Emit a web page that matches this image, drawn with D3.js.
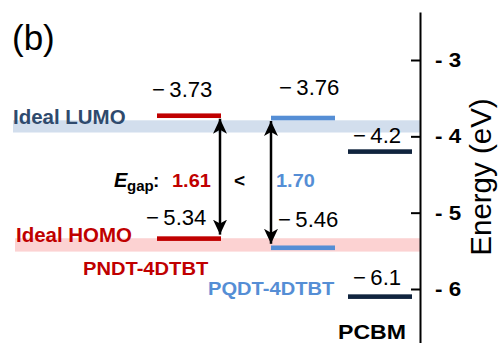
<!DOCTYPE html>
<html>
<head>
<meta charset="utf-8">
<script src="https://cdn.jsdelivr.net/npm/d3@7"></script>
<style>
body { margin: 0; background: #fff; }
svg { display: block; font-family: "Liberation Sans", Arial, sans-serif; }
</style>
</head>
<body>
<script>
// energy levels (eV)
var materials = ["PNDT-4DTBT", "PQDT-4DTBT", "PCBM"];
var lumo = [-3.73, -3.76, -4.2];
var homo = [-5.34, -5.46, -6.1];
var idealLumo = [-3.79, -3.95];
var idealHomo = [-5.335, -5.51];
var yTicks = [-3, -4, -5, -6];

var colors = ["#c00000", "#558ed5", "#10243e"];
var width = 500, height = 343;

var svg = d3.select("body").append("svg")
    .attr("width", width)
    .attr("height", height);

var y = d3.scaleLinear().domain([-3, -6]).range([60, 289]);
var yAx = y.copy().domain([y.invert(12), y.invert(343)]).range([12, 343]);
var x = d3.scaleOrdinal().domain(materials).range([157, 271, 348]);
var barW = 64;
var axisX = 420;

// helper for stretched labels
function txt(px, py, s, o) {
    return svg.append("text")
        .attr("transform", "translate(" + px + "," + py + ") scale(" + (o.sx || 1) + ",1)")
        .attr("font-size", o.size)
        .attr("font-weight", o.bold ? "bold" : null)
        .attr("font-style", o.italic ? "italic" : null)
        .attr("fill", o.fill || "#000")
        .attr("text-anchor", o.anchor || "start")
        .text(s);
}

// ideal bands
svg.append("rect")
    .attr("x", 13).attr("width", axisX - 13)
    .attr("y", y(idealLumo[0])).attr("height", y(idealLumo[1]) - y(idealLumo[0]))
    .attr("fill", "#d2deed");
svg.append("rect")
    .attr("x", 15).attr("width", axisX - 15)
    .attr("y", y(idealHomo[0])).attr("height", y(idealHomo[1]) - y(idealHomo[0]))
    .attr("fill", "#fcd2d2");

txt(13, 123.5, "Ideal LUMO", { size: 19.5, bold: true, sx: 1.05, fill: "#2f4a6d" });
txt(16, 242, "Ideal HOMO", { size: 19.5, bold: true, sx: 1.05, fill: "#c00000" });

// axis
var axis = d3.axisRight(yAx)
    .tickValues(yTicks)
    .tickSizeInner(-9)
    .tickSizeOuter(0)
    .tickPadding(15)
    .tickFormat(function (d) { return "- " + Math.abs(d); });
var gAxis = svg.append("g")
    .attr("transform", "translate(" + axisX + ",0)")
    .call(axis);
gAxis.select(".domain").attr("stroke", "#000").attr("stroke-width", 2);
gAxis.selectAll(".tick line").attr("stroke", "#000").attr("stroke-width", 2);
gAxis.selectAll(".tick text")
    .attr("font-size", 20)
    .attr("font-weight", "bold")
    .attr("font-family", "Liberation Sans, Arial, sans-serif")
    .attr("fill", "#000")
    .attr("x", 15 / 1.12)
    .attr("transform", "scale(1.12,1)");

svg.append("text")
    .attr("transform", "translate(491,177) rotate(-90)")
    .attr("text-anchor", "middle")
    .attr("font-size", 29.5)
    .text("Energy (eV)");

// level bars
var levels = [];
materials.forEach(function (m, i) {
    levels.push({ m: m, i: i, v: lumo[i], kind: "lumo" });
    levels.push({ m: m, i: i, v: homo[i], kind: "homo" });
});
svg.selectAll("rect.level")
    .data(levels)
    .enter().append("rect")
    .attr("class", "level")
    .attr("x", function (d) { return x(d.m); })
    .attr("y", function (d) { return y(d.v) - 2.3; })
    .attr("width", barW)
    .attr("height", 4.6)
    .attr("fill", function (d) { return colors[d.i]; });

// value labels (layout nudges)
var labelDx = { lumo: [-5, 8, 5], homo: [-11, 7, 5] };
var labelLift = { lumo: [19, 23, 9], homo: [14, 21, 12] };
levels.forEach(function (d) {
    txt(x(d.m) + labelDx[d.kind][d.i], y(d.v) - labelLift[d.kind][d.i],
        "\u2212\u2009" + Math.abs(d.v), { size: 21.5, sx: 1.03 });
});

// gap arrows
var defs = svg.append("defs");
defs.append("marker")
    .attr("id", "head")
    .attr("viewBox", "-15 -7.5 15 15")
    .attr("refX", 0).attr("refY", 0)
    .attr("markerUnits", "userSpaceOnUse")
    .attr("markerWidth", 15).attr("markerHeight", 15)
    .attr("orient", "auto-start-reverse")
    .append("path")
    .attr("d", "M0,0L-15,-7L-11,0L-15,7Z")
    .attr("fill", "#000");

var arrowX = [x(materials[0]) + barW - 1, x(materials[1])];
[0, 1].forEach(function (i) {
    svg.append("line")
        .attr("x1", arrowX[i]).attr("x2", arrowX[i])
        .attr("y1", y(lumo[i]) + 3).attr("y2", y(homo[i]) - 4)
        .attr("stroke", "#000").attr("stroke-width", 2.5)
        .attr("marker-start", "url(#head)")
        .attr("marker-end", "url(#head)");
});

// E_gap text
var gaps = [0, 1].map(function (i) { return (lumo[i] - homo[i]).toFixed(2); });
txt(114, 187, "E", { size: 20, bold: true, italic: true });
txt(127, 191, "gap", { size: 15, bold: true, sx: 1.0 });
txt(153, 187, ":", { size: 19, bold: true });
txt(172, 187, gaps[0], { size: 19, bold: true, sx: 1.05, fill: colors[0] });
txt(234, 187, "<", { size: 19, bold: true });
txt(276, 187, gaps[1], { size: 19, bold: true, sx: 1.05, fill: colors[1] });

// material names
txt(83, 275, materials[0], { size: 19, bold: true, sx: 1.06, fill: colors[0] });
txt(208, 295, materials[1], { size: 19, bold: true, sx: 1.06, fill: colors[1] });
txt(338, 339, materials[2], { size: 21, bold: true, sx: 1.1, fill: "#000" });

// panel tag
txt(12, 50, "(b)", { size: 35 });
</script>
</body>
</html>
